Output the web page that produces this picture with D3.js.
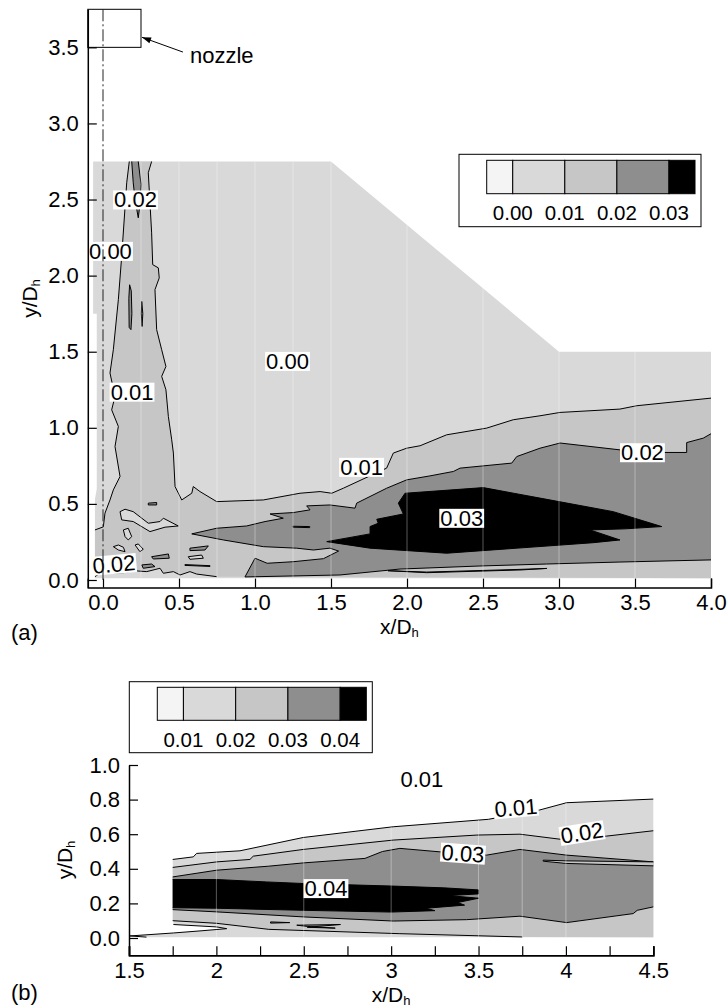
<!DOCTYPE html>
<meta charset="utf-8">
<title>Contour plots (a) and (b)</title>
<style>
  body { margin: 0; background: #fff; }
  text { font-family: "Liberation Sans", Arial, Helvetica, sans-serif; fill: #000; }
</style>
<svg width="727" height="1008"></svg>
<script src="https://d3js.org/d3.v7.min.js"></script>
<script>
// ---------- data : panel (a) ----------
var xTicksA = [0, 0.5, 1, 1.5, 2, 2.5, 3, 3.5, 4];
var yTicksA = [0, 0.5, 1, 1.5, 2, 2.5, 3, 3.5];
var legendA = ["0.00", "0.01", "0.02", "0.03"];
var meshXA = [0.25, 0.5, 0.75, 1.0, 1.25, 1.5, 2.0, 2.5, 3.0, 3.5];

var domainA = [[-0.065,2.75],[1.5,2.75],[3.0,1.5],[4.0,1.5],[4.0,0.012],[-0.053,0.012],[-0.053,0.53],[-0.041,0.6],[-0.041,1.75],[-0.065,1.75]];

var jetLeft01 = [[0.173,2.75],[0.156,2.61],[0.123,2.127],[0.101,1.842],[0.068,1.513],[0.046,1.36],[0.079,1.206],[0.057,1.118],[0.101,1.009],[0.079,0.877],[0.112,0.68],[0.068,0.592],[0.046,0.526],[0.013,0.439],[0.002,0.349],[-0.053,0.329]];
var jetBottom01 = [[-0.053,0.022],[-0.02,0.044],[0.134,0.048],[0.199,0.061],[0.288,0.055],[0.375,0.077],[0.397,0.044],[0.463,0.055],[0.507,0.033],[0.572,0.055],[0.616,0.039],[0.748,0.022]];
var line01A = [[4.0,1.195],[3.511,1.145],[3.401,1.123],[3.007,1.101],[2.875,1.079],[2.699,1.053],[2.524,0.998],[2.261,0.954],[2.086,0.882],[1.998,0.866],[1.91,0.834],[1.866,0.735],[1.581,0.603],[1.505,0.57],[1.428,0.581],[1.296,0.57],[1.055,0.526],[0.748,0.515],[0.638,0.581],[0.594,0.614],[0.584,0.57],[0.518,0.526],[0.474,0.614],[0.463,0.834],[0.452,0.921],[0.43,1.074],[0.414,1.25],[0.386,1.338],[0.414,1.403],[0.386,1.513],[0.353,1.645],[0.342,1.908],[0.37,1.985],[0.364,2.051],[0.327,2.072],[0.32,2.281],[0.298,2.676],[0.32,2.75]];

var upper02A = [[0.584,0.303],[0.748,0.34],[0.945,0.355],[1.066,0.384],[1.186,0.406],[1.099,0.434],[1.252,0.443],[1.362,0.461],[1.34,0.487],[1.493,0.493],[1.658,0.472],[1.669,0.505],[1.866,0.603],[1.998,0.658],[2.151,0.684],[2.305,0.713],[2.349,0.735],[2.689,0.768],[2.722,0.811],[2.875,0.866],[3.007,0.9],[3.401,0.855],[3.697,0.838],[3.84,0.838],[3.84,0.903],[3.949,0.932],[4.0,0.961]];
var lower02A = [[4.0,0.132],[3.401,0.118],[2.919,0.105],[2.48,0.092],[1.954,0.072],[1.559,0.033],[0.934,0.02],[1.0,0.143],[1.08,0.11],[1.25,0.12],[1.45,0.14],[1.55,0.19],[1.493,0.209],[1.384,0.197],[1.274,0.209],[1.055,0.219],[0.792,0.263],[0.584,0.303]];
var core03A = [[1.472,0.252],[1.757,0.303],[1.757,0.351],[1.811,0.373],[1.801,0.399],[1.976,0.434],[1.943,0.505],[1.987,0.57],[2.502,0.607],[2.875,0.538],[3.357,0.449],[3.676,0.351],[3.434,0.336],[3.204,0.329],[3.401,0.263],[3.224,0.245],[2.261,0.176],[1.757,0.209]];
var jetTop02 = [[0.189,2.75],[0.199,2.61],[0.211,2.5],[0.232,2.38],[0.243,2.467],[0.25,2.6],[0.232,2.75]];
var jetIsle1 = [[0.175,1.94],[0.186,1.9],[0.19,1.75],[0.184,1.645],[0.172,1.66],[0.17,1.85]];
var jetIsle2 = [[0.255,1.83],[0.262,1.75],[0.257,1.666],[0.252,1.75]];
var lightIsles = [
  [[0.112,0.449],[0.145,0.465],[0.199,0.449],[0.298,0.373],[0.375,0.384],[0.397,0.406],[0.495,0.355],[0.408,0.347],[0.309,0.318],[0.199,0.384],[0.123,0.395]],
  [[0.134,0.329],[0.166,0.34],[0.189,0.285],[0.166,0.263],[0.145,0.285]],
  [[0.211,0.23],[0.232,0.237],[0.265,0.202],[0.243,0.186]],
  [[0.068,0.219],[0.101,0.23],[0.134,0.215],[0.145,0.186],[0.101,0.197]],
  [[0.561,0.153],[0.649,0.164],[0.66,0.143],[0.572,0.136]]
];
var darkIsles = [
  [[0.572,0.209],[0.693,0.224],[0.671,0.197],[0.572,0.193]],
  [[0.32,0.153],[0.43,0.171],[0.436,0.143],[0.331,0.138]],
  [[0.255,0.099],[0.32,0.105],[0.342,0.088],[0.265,0.077]],
  [[0.298,0.505],[0.353,0.509],[0.353,0.493],[0.298,0.493]],
  [[1.25,0.353],[1.36,0.351],[1.36,0.344],[1.25,0.347]],
  [[0.539,0.101],[0.704,0.094],[0.704,0.089],[0.539,0.096]],
  [[1.875,0.061],[2.13,0.052],[2.75,0.07],[2.92,0.076],[2.75,0.066],[2.13,0.048]]
];
var labelsA = [
  [0.214,2.5,"0.02",0],[0.049,2.162,"0.00",0],[1.214,1.439,"0.00",0],[0.191,1.237,"0.01",0],
  [1.701,0.743,"0.01",0],[2.36,0.408,"0.03",0],[3.549,0.839,"0.02",0],[0.072,0.105,"0.02",-5]
];
var nozzle = { x0: -0.1, x1: 0.25, y0: 3.5, y1: 3.75, tip: [0.25,3.566], tail: [0.526,3.469], text: [0.572,3.395] };

// ---------- data : panel (b) ----------
var xTicksB = [1.5, 2, 2.5, 3, 3.5, 4, 4.5];
var xMinorB = [1.75, 2.25, 2.75, 3.25, 3.75, 4.25];
var yTicksB = [0, 0.2, 0.4, 0.6, 0.8, 1.0];
var legendB = ["0.01", "0.02", "0.03", "0.04"];
var meshXB = [2.0, 2.5, 3.0, 3.5, 3.75, 4.0];

var top01B = [[1.75,0.454],[1.868,0.469],[1.887,0.489],[2.135,0.504],[2.497,0.581],[3.012,0.643],[3.556,0.686],[3.85,0.74],[4.004,0.782],[4.5,0.803]];
var wedgeB = [[1.6,0.005],[1.506,0.012],[1.754,0.029],[1.906,0.041],[2.059,0.054],[2.002,0.064],[1.754,0.078]];
var line02B = [[1.75,0.408],[2.002,0.44],[2.192,0.454],[2.211,0.473],[2.497,0.512],[3.012,0.566],[3.49,0.595],[3.737,0.6],[3.966,0.571],[4.1,0.58],[4.233,0.589],[4.5,0.62]];
var bottom02B = [[3.75,0.006],[3.05,0.025],[2.3,0.05],[2.0,0.085],[1.75,0.1]];
var line03B = [[1.75,0.353],[2.002,0.392],[2.297,0.415],[2.497,0.434],[2.85,0.46],[2.95,0.5],[3.05,0.518],[3.279,0.498],[3.546,0.479],[3.737,0.512],[4.004,0.479],[4.5,0.44]];
var bottom03B = [[4.5,0.18],[4.408,0.16],[4.385,0.141],[4.004,0.089],[3.737,0.126],[3.432,0.106],[3.012,0.098],[2.497,0.122],[2.002,0.151],[1.75,0.164]];
var core04B = [[1.75,0.338],[2.002,0.338],[2.288,0.324],[2.497,0.315],[3.012,0.3],[3.3,0.29],[3.5,0.278],[3.5,0.255],[3.33,0.245],[3.5,0.23],[3.38,0.205],[3.42,0.19],[3.2,0.172],[3.25,0.158],[3.0,0.15],[2.5,0.16],[2.0,0.172],[1.75,0.175]];
var sliverB = [[4.5,0.44],[4.0,0.446],[3.87,0.45],[3.87,0.444],[4.0,0.431],[4.5,0.417]];
var smallIslesB = [
  [[2.31,0.093],[2.42,0.089],[2.31,0.086]],
  [[2.46,0.074],[2.71,0.078],[2.52,0.062],[2.68,0.057],[2.52,0.067]]
];
var labelsB = [
  [3.714,0.754,"0.01",-5],[4.092,0.609,"0.02",-9],[3.411,0.49,"0.03",4],[2.627,0.288,"0.04",0]
];
var freeLabelB = [3.176, 0.919, "0.01"];

var levels = ["#f4f4f4", "#d9d9d9", "#c6c6c6", "#8e8e8e", "#000000"];

// ---------- drawing ----------
var svg = d3.select("svg");
var xa = d3.scaleLinear().domain([-0.1, 4.0]).range([87.8, 711]);
var ya = d3.scaleLinear().domain([-0.05, 3.75]).range([587.6, 9.3]);
var xb = d3.scaleLinear().domain([1.5, 4.5]).range([129, 653.3]);
var yb = d3.scaleLinear().domain([-0.1, 1.0]).range([955.3, 765]);

function line(p) { return { pts: p, line: true }; }
function edge(p) { return { pts: p, line: false }; }
function ring(p) { return { pts: p, line: true, closed: true }; }

function drawRegions(g, regions, x, y) {
  var path = d3.line().x(function(d) { return x(d[0]); }).y(function(d) { return y(d[1]); });
  regions.forEach(function(r) {
    var all = [];
    r.parts.forEach(function(p) { all = all.concat(p.pts); });
    g.append("path").attr("d", path(all) + "Z").attr("fill", r.fill).attr("stroke", "none");
    r.parts.forEach(function(p) {
      if (!p.line) return;
      var pts = p.closed ? p.pts.concat([p.pts[0]]) : p.pts;
      g.append("path").attr("d", path(pts)).attr("fill", "none")
        .attr("stroke", "#000").attr("stroke-width", 1).attr("stroke-linejoin", "round");
    });
  });
}

function drawMesh(g, xs, x, y, y0, y1, clipId) {
  g.append("g").attr("clip-path", "url(#" + clipId + ")")
    .selectAll("line").data(xs).enter().append("line")
    .attr("x1", function(d) { return x(d); }).attr("x2", function(d) { return x(d); })
    .attr("y1", y(y0)).attr("y2", y(y1))
    .attr("stroke", "#fff").attr("stroke-opacity", 0.35).attr("stroke-width", 1);
}

function addLabel(g, px, py, txt, angle, boxed) {
  var gg = g.append("g").attr("transform", "translate(" + px + "," + py + ") rotate(" + angle + ")");
  var t = gg.append("text").attr("text-anchor", "middle").attr("dy", "0.36em")
    .style("font-size", "22px").text(txt);
  if (boxed) {
    var bb = t.node().getBBox();
    gg.insert("rect", "text").attr("x", bb.x - 1).attr("y", bb.y + 3)
      .attr("width", bb.width + 2).attr("height", bb.height - 6).attr("fill", "#fff");
  }
}

function drawLegend(g, names, bx0, by0, bx1, by1, cx0, cy0, cx1, cy1, base) {
  g.append("rect").attr("x", bx0).attr("y", by0).attr("width", bx1 - bx0).attr("height", by1 - by0)
    .attr("fill", "#fff").attr("stroke", "#000").attr("stroke-width", 1);
  var step = (cx1 - cx0) / 4;
  var edges = [cx0, cx0 + step / 2, cx0 + step * 1.5, cx0 + step * 2.5, cx0 + step * 3.5, cx1];
  levels.forEach(function(c, i) {
    g.append("rect").attr("x", edges[i]).attr("y", cy0).attr("width", edges[i + 1] - edges[i])
      .attr("height", cy1 - cy0).attr("fill", c).attr("stroke", "#000").attr("stroke-width", 1);
  });
  names.forEach(function(n, i) {
    g.append("text").attr("x", edges[i + 1]).attr("y", base).attr("text-anchor", "middle")
      .style("font-size", "20.5px").text(n);
  });
}

function styleAxis(sel) {
  sel.attr("font-family", null).attr("font-size", null);
  sel.select(".domain").attr("stroke-width", 1.5);
  sel.selectAll(".tick line").attr("stroke-width", 1.2);
  sel.selectAll(".tick text").style("font-size", "22px");
}

function axisTitle(g, x, y, rot, main) {
  var t = g.append("text").attr("transform", "translate(" + x + "," + y + ") rotate(" + rot + ")")
    .attr("text-anchor", "middle").style("font-size", "21px");
  t.append("tspan").text(main);
  t.append("tspan").attr("dy", "3").style("font-size", "13px").text("h");
}

// ===== panel (a) =====
var ga = svg.append("g");
var defs = svg.append("defs");
defs.append("clipPath").attr("id", "clipA").append("path")
  .attr("d", d3.line().x(function(d) { return xa(d[0]); }).y(function(d) { return ya(d[1]); })(domainA) + "Z");

drawRegions(ga, [
  { fill: levels[1], parts: [edge(domainA)] },
  { fill: levels[2], parts: [line(jetLeft01), line(jetBottom01), edge([[4.0, 0.012]]), line(line01A)] },
  { fill: levels[3], parts: [line(upper02A), line(lower02A)] },
  { fill: levels[4], parts: [ring(core03A)] },
  { fill: levels[3], parts: [line(jetTop02)] },
  { fill: levels[3], parts: [ring(jetIsle1)] },
  { fill: levels[3], parts: [ring(jetIsle2)] }
].concat(lightIsles.map(function(p) { return { fill: levels[1], parts: [ring(p)] }; }))
 .concat(darkIsles.map(function(p) { return { fill: levels[3], parts: [ring(p)] }; })), xa, ya);

drawMesh(ga, meshXA, xa, ya, 0, 2.75, "clipA");

labelsA.forEach(function(l) { addLabel(ga, xa(l[0]), ya(l[1]), l[2], l[3], true); });

// axes (a)
ga.append("g").attr("transform", "translate(" + xa(-0.1) + ",0)")
  .call(d3.axisLeft(ya).tickValues(yTicksA).tickFormat(d3.format(".1f"))
    .tickSizeInner(-9).tickSizeOuter(0).tickPadding(9))
  .call(styleAxis);
ga.append("g").attr("transform", "translate(0," + ya(-0.05) + ")")
  .call(d3.axisBottom(xa).tickValues(xTicksA).tickFormat(d3.format(".1f"))
    .tickSizeInner(-9).tickSizeOuter(-9).tickPadding(6.5))
  .call(styleAxis);

// nozzle and centre line
ga.append("rect").attr("x", xa(nozzle.x0)).attr("y", ya(nozzle.y1))
  .attr("width", xa(nozzle.x1) - xa(nozzle.x0)).attr("height", ya(nozzle.y0) - ya(nozzle.y1))
  .attr("fill", "none").attr("stroke", "#000").attr("stroke-width", 1);
ga.append("line").attr("x1", xa(0)).attr("x2", xa(0)).attr("y1", ya(3.75)).attr("y2", ya(0))
  .attr("stroke", "#222").attr("stroke-width", 1).attr("stroke-dasharray", "12,3,2,3");
defs.append("marker").attr("id", "arr").attr("viewBox", "0 0 10 10").attr("refX", 10).attr("refY", 5)
  .attr("markerWidth", 24).attr("markerHeight", 9).attr("markerUnits", "userSpaceOnUse").attr("orient", "auto")
  .append("path").attr("d", "M0,1.5 L10,5 L0,8.5 Z").attr("fill", "#000");
ga.append("line").attr("x1", xa(nozzle.tail[0])).attr("y1", ya(nozzle.tail[1]))
  .attr("x2", xa(nozzle.tip[0]) + 1).attr("y2", ya(nozzle.tip[1]))
  .attr("stroke", "#000").attr("stroke-width", 1).attr("marker-end", "url(#arr)");
ga.append("text").attr("x", xa(nozzle.text[0])).attr("y", ya(nozzle.text[1]))
  .style("font-size", "22px").text("nozzle");

drawLegend(ga, legendA, 459, 154.3, 701, 226.7, 486.7, 160.3, 695, 193.7, 220);

axisTitle(ga, 37, 298.5, -90, "y/D");
axisTitle(ga, 399.4, 634, 0, "x/D");
ga.append("text").attr("x", 11).attr("y", 640).style("font-size", "22px").text("(a)");

// ===== panel (b) =====
var gb = svg.append("g");
var domainB = top01B.concat([[4.5, 0.005]]).concat(wedgeB);
defs.append("clipPath").attr("id", "clipB").append("path")
  .attr("d", d3.line().x(function(d) { return xb(d[0]); }).y(function(d) { return yb(d[1]); })(domainB) + "Z");

drawRegions(gb, [
  { fill: levels[1], parts: [line(top01B), edge([[4.5, 0.005]]), line(wedgeB)] },
  { fill: levels[2], parts: [line(line02B), edge([[4.5, 0.005]]), line(bottom02B)] },
  { fill: levels[3], parts: [line(line03B), line(bottom03B)] },
  { fill: levels[4], parts: [line(core04B)] },
  { fill: levels[2], parts: [line(sliverB)] }
].concat(smallIslesB.map(function(p) { return { fill: levels[3], parts: [ring(p)] }; })), xb, yb);

drawMesh(gb, meshXB, xb, yb, 0, 1.0, "clipB");

labelsB.forEach(function(l) { addLabel(gb, xb(l[0]), yb(l[1]), l[2], l[3], true); });
addLabel(gb, xb(freeLabelB[0]), yb(freeLabelB[1]), freeLabelB[2], 0, false);

gb.append("g").attr("transform", "translate(" + xb(1.5) + ",0)")
  .call(d3.axisLeft(yb).tickValues(yTicksB).tickFormat(d3.format(".1f"))
    .tickSizeInner(-9).tickSizeOuter(0).tickPadding(9))
  .call(styleAxis);
gb.append("g").attr("transform", "translate(0," + yb(-0.1) + ")")
  .call(d3.axisBottom(xb).tickValues(xMinorB).tickFormat("").tickSizeInner(-9).tickSizeOuter(-9))
  .call(styleAxis);
gb.append("g").attr("transform", "translate(0," + yb(-0.1) + ")")
  .call(d3.axisBottom(xb).tickValues(xTicksB).tickFormat(d3.format("~g"))
    .tickSizeInner(-9).tickSizeOuter(-9).tickPadding(7.5))
  .call(styleAxis);

drawLegend(gb, legendB, 129.3, 681.7, 372.3, 752.7, 157.3, 687.3, 366.3, 720.3, 747);

axisTitle(gb, 72, 860, -90, "y/D");
axisTitle(gb, 391, 1002, 0, "x/D");
gb.append("text").attr("x", 11).attr("y", 1000).style("font-size", "22px").text("(b)");
</script>
